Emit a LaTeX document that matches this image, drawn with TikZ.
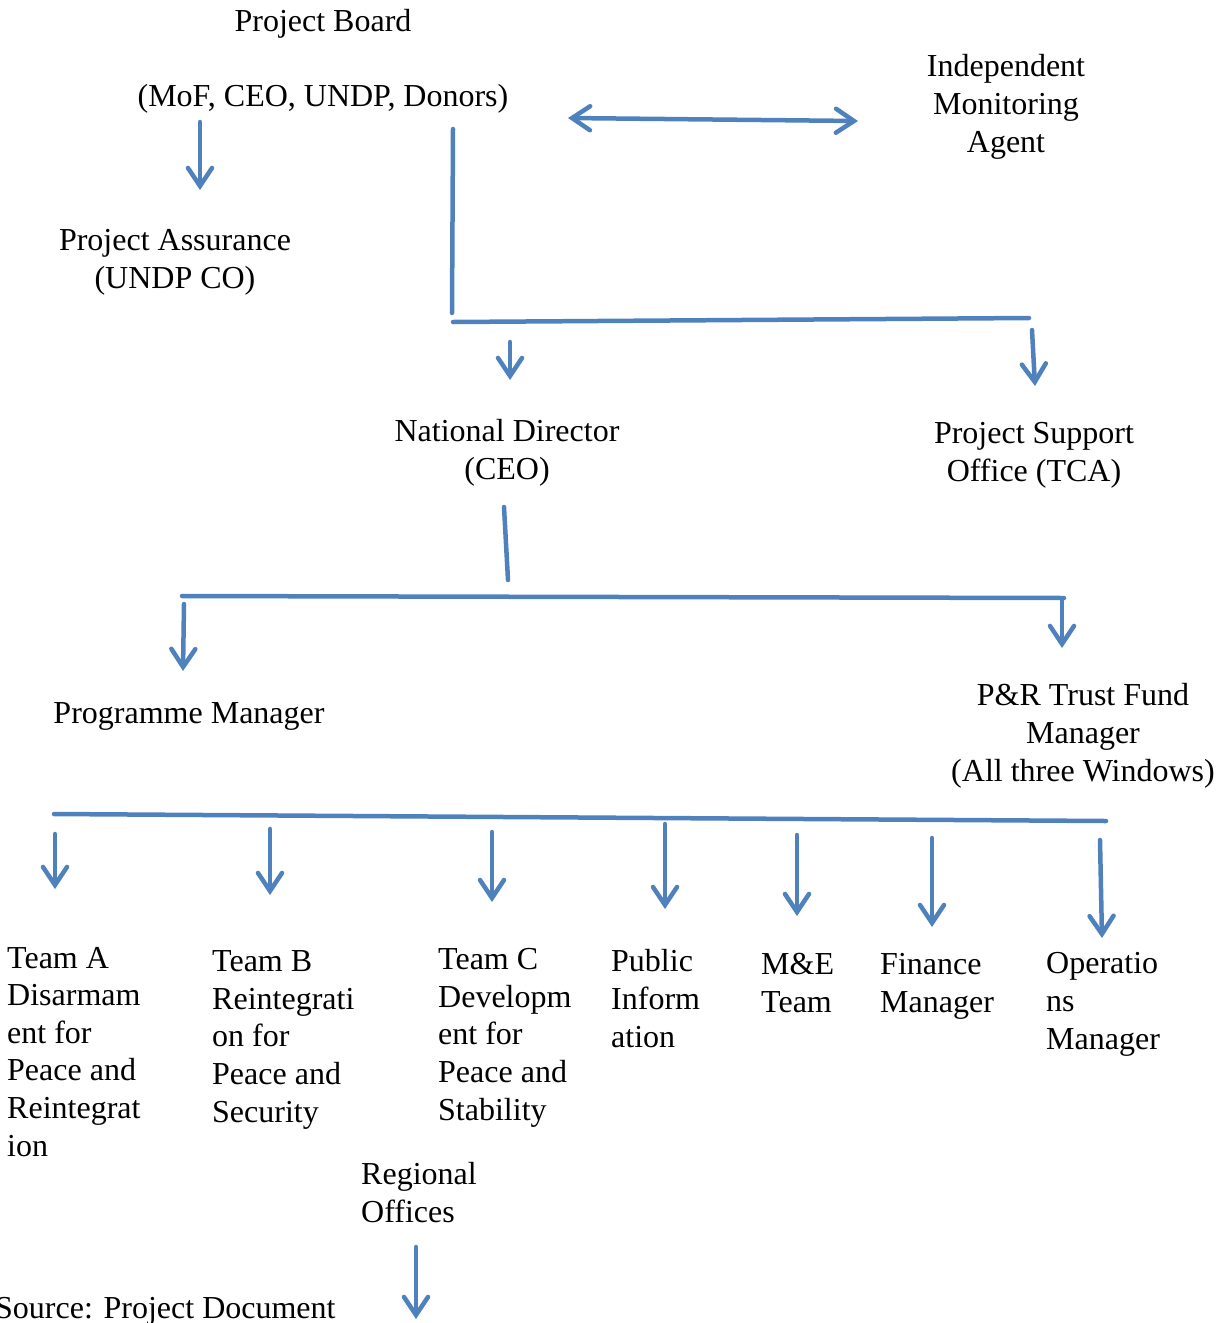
\documentclass[tikz,border=0pt]{standalone}
\usepackage{fontspec}
\setmainfont{Liberation Serif}
\usetikzlibrary{arrows.meta}
\definecolor{lineblue}{HTML}{4F81BD}
\begin{document}
\begin{tikzpicture}[x=1pt,y=-1pt,
  lbl/.style={inner sep=0pt,anchor=base,align=center,font=\fontsize{32}{37.6}\selectfont},
  lblw/.style={inner sep=0pt,anchor=base west,align=left,font=\fontsize{32}{37.6}\selectfont},
  conn/.style={draw=lineblue,line width=4.5pt,line cap=round},
  arr/.style={conn,-{Straight Barb[length=18pt,width=24pt,line cap=round]}},
  darr/.style={conn,{Straight Barb[length=18pt,width=24pt,line cap=round]}-{Straight Barb[length=18pt,width=24pt,line cap=round]}}]
\useasboundingbox (0,0) rectangle (1221,1323);
% texts (anchor = baseline of the last line)
\node[lbl] (board) at (323,31) {Project Board};
\node[lbl] (boardm) at (323,106) {(MoF, CEO, UNDP, Donors)};
\node[lbl] (ima) at (1006,152) {Independent\\Monitoring\\Agent};
\node[lbl] (pa) at (175,288) {Project Assurance\\(UNDP CO)};
\node[lbl] (nd) at (507,479) {National Director\\(CEO)};
\node[lbl] (pso) at (1034,481) {Project Support\\Office (TCA)};
\node[lbl] (pm) at (189,723) {Programme Manager};
\node[lbl] (tfm) at (1083,781) {P\&R Trust Fund\\Manager\\(All three Windows)};
\node[lblw] (ta) at (7,1156) {Team A\\Disarmam\\ent for\\Peace and\\Reintegrat\\ion};
\node[lblw] (tb) at (212,1122) {Team B\\Reintegrati\\on for\\Peace and\\Security};
\node[lblw] (tc) at (438,1120) {Team C\\Developm\\ent for\\Peace and\\Stability};
\node[lblw] (pi) at (611,1047) {Public\\Inform\\ation};
\node[lblw] (me) at (761,1012) {M\&E\\Team};
\node[lblw] (fm) at (880,1012) {Finance\\Manager};
\node[lblw] (om) at (1046,1049) {Operatio\\ns\\Manager};
\node[lblw] (ro) at (361,1222) {Regional\\Offices};
\node[lblw] (src) at (-5,1318) {Source: Project Document};
% coordinates
\coordinate (a1s) at (200,122); \coordinate (a1e) at (200,190);
\coordinate (d1) at (568,118); \coordinate (d2) at (858,121);
\coordinate (v1s) at (453,129); \coordinate (v1e) at (452,313);
\coordinate (h1s) at (453,322); \coordinate (h1e) at (1029,318);
\coordinate (a2s) at (510,342); \coordinate (a2e) at (510,380);
\coordinate (a3s) at (1032,330); \coordinate (a3e) at (1035,386);
\coordinate (v2s) at (504,507); \coordinate (v2e) at (508,580);
\coordinate (h2s) at (182,596); \coordinate (h2e) at (1064,598);
\coordinate (a4s) at (184,604); \coordinate (a4e) at (183,671);
\coordinate (a5s) at (1062,600); \coordinate (a5e) at (1062,648);
\coordinate (h3s) at (54,814); \coordinate (h3e) at (1106,821);
\coordinate (b1s) at (55,834); \coordinate (b1e) at (55,889);
\coordinate (b2s) at (270,829); \coordinate (b2e) at (270,895);
\coordinate (b3s) at (492,832); \coordinate (b3e) at (492,902);
\coordinate (b4s) at (665,824); \coordinate (b4e) at (665,909);
\coordinate (b5s) at (797,835); \coordinate (b5e) at (797,916);
\coordinate (b6s) at (932,838); \coordinate (b6e) at (932,927);
\coordinate (b7s) at (1100,840); \coordinate (b7e) at (1102,938);
\coordinate (r1s) at (416,1247); \coordinate (r1e) at (416,1319);
% connectors
\draw[arr] (a1s) -- (a1e);
\draw[darr] (d1) -- (d2);
\draw[conn] (v1s) -- (v1e);
\draw[conn] (h1s) -- (h1e);
\draw[arr] (a2s) -- (a2e);
\draw[arr] (a3s) -- (a3e);
\draw[conn] (v2s) -- (v2e);
\draw[conn] (h2s) -- (h2e);
\draw[arr] (a4s) -- (a4e);
\draw[arr] (a5s) -- (a5e);
\draw[conn] (h3s) -- (h3e);
\draw[arr] (b1s) -- (b1e);
\draw[arr] (b2s) -- (b2e);
\draw[arr] (b3s) -- (b3e);
\draw[arr] (b4s) -- (b4e);
\draw[arr] (b5s) -- (b5e);
\draw[arr] (b6s) -- (b6e);
\draw[arr] (b7s) -- (b7e);
\draw[arr] (r1s) -- (r1e);
\end{tikzpicture}
\end{document}
